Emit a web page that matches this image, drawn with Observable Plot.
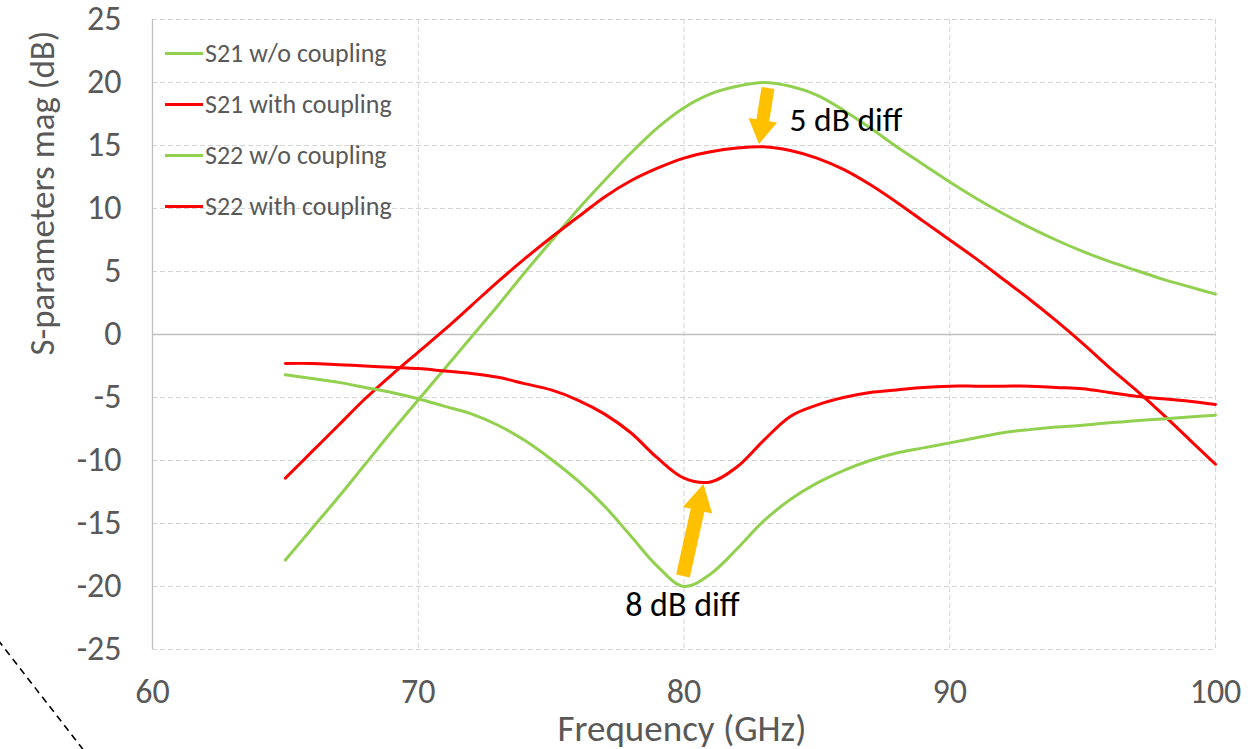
<!DOCTYPE html>
<html><head><meta charset="utf-8">
<script src="https://cdn.jsdelivr.net/npm/d3@7"></script>
<script src="https://cdn.jsdelivr.net/npm/@observablehq/plot@0.6"></script>
<style>
body{margin:0;background:#fff;}
#wrap{position:relative;width:1254px;height:749px;font-family:Carlito,Calibri,Lato,sans-serif;overflow:hidden;}
#legend{position:absolute;left:165px;top:0;}
.item{position:absolute;left:0;white-space:nowrap;display:flex;align-items:center;height:30px;}
.sw{width:38px;height:3px;margin-right:2px}
.lbl{font-size:26px;color:#595959;line-height:30px}
#deco{position:absolute;left:0;top:0;pointer-events:none}
</style></head><body><div id="wrap"></div>
<script>
// ---- data ----
const freq = [65,66,67,68,69,70,71,72,73,74,75,76,77,78,79,80,81,82,83,84,85,86,87,88,89,90,91,92,93,94,95,96,97,98,99,100];
const s21WithoutCoupling = [-17.9,-15.4,-12.9,-10.3,-7.7,-5.2,-2.7,-0.2,2.3,4.9,7.4,9.9,12.2,14.4,16.4,18.0,19.1,19.7,20.0,19.7,19.0,17.8,16.4,14.9,13.5,12.1,10.8,9.6,8.5,7.5,6.6,5.8,5.1,4.4,3.8,3.2];
const s21WithCoupling = [-11.4,-9.3,-7.2,-5.1,-3.2,-1.4,0.4,2.3,4.2,6.0,7.7,9.3,10.9,12.2,13.2,14.0,14.5,14.8,14.9,14.6,14.0,13.1,11.9,10.5,9.0,7.5,6.0,4.4,2.8,1.1,-0.7,-2.6,-4.4,-6.3,-8.3,-10.3];
const s22WithoutCoupling = [-3.2,-3.5,-3.8,-4.2,-4.6,-5.1,-5.7,-6.3,-7.2,-8.4,-9.9,-11.6,-13.6,-16.0,-18.4,-20.0,-19.0,-17.0,-14.8,-13.1,-11.8,-10.8,-10.0,-9.4,-9.0,-8.6,-8.2,-7.8,-7.55,-7.35,-7.2,-7.0,-6.85,-6.7,-6.55,-6.4];
const s22WithCoupling = [-2.3,-2.3,-2.4,-2.5,-2.6,-2.7,-2.9,-3.1,-3.4,-3.9,-4.4,-5.2,-6.3,-7.8,-9.8,-11.4,-11.7,-10.5,-8.4,-6.5,-5.6,-5.0,-4.6,-4.4,-4.2,-4.1,-4.1,-4.1,-4.1,-4.2,-4.3,-4.6,-4.9,-5.1,-5.3,-5.55];

const seriesNames = ["S21 w/o coupling","S21 with coupling","S22 w/o coupling","S22 with coupling"];
const seriesValues = [s21WithoutCoupling, s21WithCoupling, s22WithoutCoupling, s22WithCoupling];
const seriesColors = ["#92d050","#ff0000","#92d050","#ff0000"];

const xTicks = [60,70,80,90,100];
const yTicks = [-25,-20,-15,-10,-5,0,5,10,15,20,25];
const xTitle = "Frequency (GHz)";
const yTitle = "S-parameters mag (dB)";

const annotationText = ["5 dB diff","8 dB diff"];
const annotationX = [83.97, 79.94];
const annotationY = [16.98, -21.5];

const arrowTailX = [83.18, 79.98];
const arrowTailY = [19.52, -19.2];
const arrowTipX = [82.84, 80.75];
const arrowTipY = [15.08, -11.9];

// ---- build tables ----
const rows = [];
seriesNames.forEach((name, s) => {
  freq.forEach((f, i) => rows.push({series: name, f, v: seriesValues[s][i]}));
});
const annotations = annotationText.map((t, i) => ({t, x: annotationX[i], y: annotationY[i]}));
const arrows = arrowTailX.map((x, i) => ({x1: x, y1: arrowTailY[i], x2: arrowTipX[i], y2: arrowTipY[i]}));
const arrowStyle = [{shaft: 13, head: 29, len: 24}, {shaft: 14, head: 30, len: 27}];

const FONT = "Carlito, Calibri, Lato, sans-serif";
const GRID = "#d4d4d4";

function blockArrows(index, scales) {
  const g = d3.create("svg:g");
  arrows.forEach((a, i) => {
    const st = arrowStyle[i];
    const tx = scales.x(a.x1), ty = scales.y(a.y1);
    const px = scales.x(a.x2), py = scales.y(a.y2);
    const L = Math.hypot(px - tx, py - ty);
    const ux = (px - tx) / L, uy = (py - ty) / L;
    const nx = -uy, ny = ux;
    const bx = px - ux * st.len, by = py - uy * st.len;
    const sw = st.shaft / 2, hw = st.head / 2;
    const pts = [
      [tx + nx * sw, ty + ny * sw],
      [bx + nx * sw, by + ny * sw],
      [bx + nx * hw, by + ny * hw],
      [px, py],
      [bx - nx * hw, by - ny * hw],
      [bx - nx * sw, by - ny * sw],
      [tx - nx * sw, ty - ny * sw]
    ];
    g.append("path").attr("d", "M" + pts.map(p => p.join(",")).join("L") + "Z").attr("fill", "#ffc000");
  });
  return g.node();
}

const chart = Plot.plot({
  width: 1254,
  height: 749,
  marginLeft: 152,
  marginRight: 39,
  marginTop: 19,
  marginBottom: 100,
  style: {fontFamily: FONT, background: "#fff", overflow: "visible"},
  x: {domain: [60, 100]},
  y: {domain: [-25, 25]},
  color: {domain: seriesNames, range: seriesColors},
  marks: [
    Plot.ruleX(xTicks.filter(d => d !== 60), {stroke: GRID, strokeWidth: 1, strokeDasharray: "5,3"}),
    Plot.ruleY(yTicks.filter(d => d !== 0), {stroke: GRID, strokeWidth: 1, strokeDasharray: "5,3"}),
    Plot.ruleY([0], {stroke: "#bfbfbf", strokeWidth: 1.3}),
    Plot.ruleX([60], {stroke: "#bfbfbf", strokeWidth: 1.3}),
    Plot.axisX({ticks: xTicks, tickSize: 0, tickPadding: 29, fontSize: 34, color: "#595959", label: null, tickFormat: d => String(d)}),
    Plot.axisY({ticks: yTicks, tickSize: 0, tickPadding: 31, fontSize: 34, color: "#595959", label: null, tickFormat: d => String(d)}),
    Plot.line(rows, {x: "f", y: "v", z: "series", stroke: "series", strokeWidth: 3, curve: "catmull-rom"}),
    blockArrows,
    Plot.text(annotations.slice(0, 1), {x: "x", y: "y", text: "t", textAnchor: "start", fontSize: 33.5, fill: "#000"}),
    Plot.text(annotations.slice(1), {x: "x", y: "y", text: "t", textAnchor: "middle", fontSize: 34, fill: "#000"})
  ]
});

const wrap = document.getElementById("wrap");
wrap.appendChild(chart);

// legend (inside the plot area, no background)
const legend = document.createElement("div");
legend.id = "legend";
const rowCenters = [53, 104, 155, 206];
seriesNames.forEach((name, i) => {
  const it = document.createElement("div");
  it.className = "item";
  it.style.top = (rowCenters[i] - 15) + "px";
  it.innerHTML = `<div class="sw" style="background:${seriesColors[i]}"></div><span class="lbl">${name}</span>`;
  legend.appendChild(it);
});
wrap.appendChild(legend);

// axis titles and a decorative dashed stroke at the bottom-left corner
const deco = d3.select(wrap).append("svg").attr("id", "deco").attr("width", 1254).attr("height", 749)
  .style("font-family", FONT);
deco.append("text").attr("x", 682).attr("y", 728).attr("text-anchor", "middle").attr("dominant-baseline", "central")
  .attr("font-size", 37).attr("fill", "#595959").text(xTitle);
deco.append("text").attr("transform", "translate(42,193) rotate(-90)").attr("text-anchor", "middle").attr("dominant-baseline", "central")
  .attr("font-size", 35).attr("fill", "#595959").text(yTitle);
deco.append("line").attr("x1", -2).attr("y1", 640).attr("x2", 85).attr("y2", 752)
  .attr("stroke", "#000").attr("stroke-width", 1.6).attr("stroke-dasharray", "7,5");
</script>
</body></html>
